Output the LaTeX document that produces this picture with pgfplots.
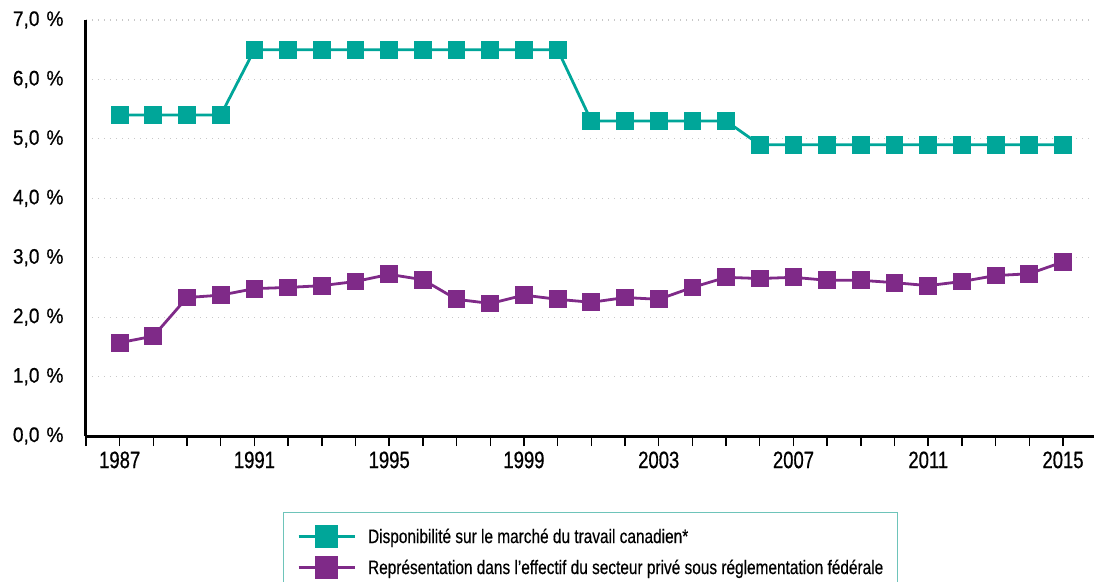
\documentclass[border=0pt]{standalone}
\usepackage{fontspec}
\setmainfont{Liberation Sans}
\newfontfamily\tickfont[FakeStretch=0.91,FakeBold=0.6]{Liberation Sans}
\newfontfamily\xtickfont[FakeStretch=0.78,FakeBold=0.6]{Liberation Sans}
\newfontfamily\legfont[FakeStretch=0.79,FakeBold=0.4]{Liberation Sans}
\usepackage{pgfplots}
\pgfplotsset{compat=1.18}
\definecolor{tealc}{RGB}{0,166,153}
\definecolor{purpc}{RGB}{127,42,136}
\definecolor{gridc}{RGB}{200,200,200}
\definecolor{legbord}{RGB}{110,196,186}
\begin{document}
\begin{tikzpicture}
\begin{axis}[
  at={(0pt,0pt)}, anchor=south west, scale only axis,
  width=1008pt, height=416pt,
  xmin=1986, xmax=2015.92, ymin=0, ymax=7,
  axis lines*=left,
  axis line style={line width=3pt, black},
  clip=false,
  xtick={1987,1991,1995,1999,2003,2007,2011,2015},
  xticklabels={1987,1991,1995,1999,2003,2007,2011,2015},
  minor xtick={1986,1987,...,2015},
  tick align=outside,
  major tick length=10pt, minor tick length=10pt,
  x tick style={black, line width=1.4pt},
  ytick={0,1,...,7},
  yticklabels={{0,0\hspace{7pt}\%},{1,0\hspace{7pt}\%},{2,0\hspace{7pt}\%},{3,0\hspace{7pt}\%},{4,0\hspace{7pt}\%},{5,0\hspace{7pt}\%},{6,0\hspace{7pt}\%},{7,0\hspace{7pt}\%}},
  y tick style={draw=none},
  ymajorgrids,
  grid style={gridc, line width=1.2pt, dash pattern=on 1.2pt off 4.8pt},
  yticklabel style={font=\tickfont\fontsize{21}{23}\selectfont, xshift=-9pt},
  xticklabel style={font=\xtickfont\fontsize{23.7}{26}\selectfont, yshift=-2pt},
  legend style={at={(0.1951,-0.1827)}, anchor=north west,
    draw=legbord, line width=1.2pt,
    font=\legfont\fontsize{19.5}{21}\selectfont,
    nodes={inner sep=0pt},
    inner xsep=14pt, inner ysep=14pt, row sep=11pt, column sep=12pt},
  legend cell align=left,
  legend image code/.code={
    \draw[mark repeat=2,mark phase=2, mark size=10pt] plot coordinates {(0pt,0pt) (28pt,0pt) (56pt,0pt)};
  },
]
\addplot[tealc, line width=2.8pt, mark=square*, mark size=7.5pt, mark options={solid}] coordinates {
(1987,5.4)(1988,5.4)(1989,5.4)(1990,5.4)
(1991,6.5)(1992,6.5)(1993,6.5)(1994,6.5)(1995,6.5)(1996,6.5)(1997,6.5)(1998,6.5)(1999,6.5)(2000,6.5)
(2001,5.3)(2002,5.3)(2003,5.3)(2004,5.3)(2005,5.3)
(2006,4.9)(2007,4.9)(2008,4.9)(2009,4.9)(2010,4.9)(2011,4.9)(2012,4.9)(2013,4.9)(2014,4.9)(2015,4.9)
};
\addlegendentry{Disponibilité sur le marché du travail canadien*}
\addplot[purpc, line width=2.8pt, mark=square*, mark size=7.5pt, mark options={solid}] coordinates {
(1987,1.57)(1988,1.68)(1989,2.33)(1990,2.37)(1991,2.48)(1992,2.50)(1993,2.53)(1994,2.60)
(1995,2.72)(1996,2.63)(1997,2.30)(1998,2.23)(1999,2.37)(2000,2.30)(2001,2.25)(2002,2.33)
(2003,2.30)(2004,2.50)(2005,2.67)(2006,2.65)(2007,2.67)(2008,2.62)(2009,2.62)(2010,2.58)
(2011,2.53)(2012,2.60)(2013,2.70)(2014,2.73)(2015,2.93)
};
\addlegendentry{Représentation dans l’effectif du secteur privé sous réglementation fédérale}
\end{axis}
\pgfresetboundingbox
\useasboundingbox (-86pt,-145pt) rectangle (1008pt,436pt);
\end{tikzpicture}
\end{document}
